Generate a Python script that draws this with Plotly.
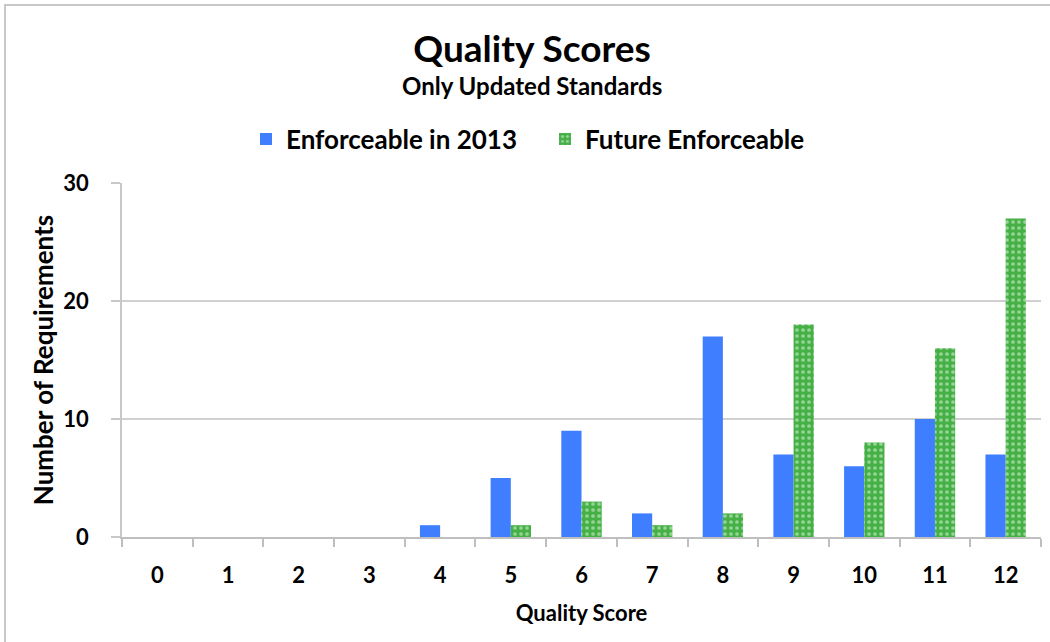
import plotly.graph_objects as go

scores = ["0", "1", "2", "3", "4", "5", "6", "7", "8", "9", "10", "11", "12"]
enforceable_2013 = [0, 0, 0, 0, 1, 5, 9, 2, 17, 7, 6, 10, 7]
future_enforceable = [0, 0, 0, 0, 0, 1, 3, 1, 2, 18, 8, 16, 27]
y_ticks = [0, 10, 20, 30]

FONT = "Lato"
W, H = 1050, 642
L, R, T, B = 122, 9, 183, 105
PW, PH = W - L - R, H - T - B


def px_x(x):
    return (x - L) / PW


def px_y(y):
    return (H - B - y) / PH


fig = go.Figure()
fig.add_trace(go.Bar(
    x=scores, y=enforceable_2013, name="<b>Enforceable in 2013</b>",
    marker=dict(color="#3f7fff", line=dict(width=0)),
))
fig.add_trace(go.Bar(
    x=scores, y=future_enforceable, name="<b>Future Enforceable</b>",
    marker=dict(color="#45b045",
                line=dict(width=0),
                pattern=dict(shape=".", fgcolor="#e8f8e8", size=6, solidity=0.3)),
))

fig.update_layout(
    width=W, height=H,
    margin=dict(l=L, r=R, t=T, b=B, autoexpand=False),
    paper_bgcolor="white", plot_bgcolor="white",
    barmode="group", bargap=0.4286, bargroupgap=0,
    font=dict(family=FONT, color="black"),
    title=dict(text="<b>Quality Scores</b>", x=532 / W, xanchor="center",
               y=1 - 49 / H, yanchor="middle", font=dict(size=37, family=FONT)),
    showlegend=True,
    legend=dict(orientation="h", x=px_x(246), xanchor="left",
                y=px_y(139), yanchor="middle",
                font=dict(size=26, family=FONT), itemwidth=30,
                entrywidth=254, entrywidthmode="pixels",
                traceorder="normal"),
    xaxis=dict(
        type="category", tickson="boundaries", ticks="outside", ticklen=8,
        tickcolor="#bfbfbf", tickwidth=1.5,
        showline=True, linecolor="#bfbfbf", linewidth=1.5,
        showgrid=False, automargin=False,
        tickfont=dict(size=22, family=FONT),
        ticklabelstandoff=18,
        tickvals=scores, ticktext=[f"<b>{s}</b>" for s in scores],
        title=dict(text="<b>Quality Score</b>", font=dict(size=22, family=FONT), standoff=18),
    ),
    yaxis=dict(
        range=[0, 30], tickvals=y_ticks, ticktext=[f"<b>{v}</b>" for v in y_ticks],
        ticks="outside", ticklen=9,
        tickcolor="#c8c8c8", tickwidth=1.5,
        showgrid=True, gridcolor="#d0d0d0", gridwidth=2,
        showline=True, linecolor="#c8c8c8", linewidth=1.5,
        zeroline=False, automargin=False,
        tickfont=dict(size=22, family=FONT),
        ticklabelstandoff=18,
        title=dict(text="<b>Number of Requirements</b>", font=dict(size=26, family=FONT), standoff=2),
    ),
    annotations=[dict(
        text="<b>Only Updated Standards</b>", xref="paper", yref="paper",
        x=px_x(532), y=px_y(86),
        xanchor="center", yanchor="middle", showarrow=False,
        font=dict(size=24, family=FONT, color="black"),
    )],
    shapes=[dict(
        type="rect", xref="paper", yref="paper",
        x0=px_x(5), x1=1.05,
        y0=-0.4, y1=px_y(5),
        line=dict(color="#c8c8c8", width=2), layer="below",
    )],
)

fig.write_html("out.html", config={"displayModeBar": False},
               post_script="document.body.style.margin='0px';")
